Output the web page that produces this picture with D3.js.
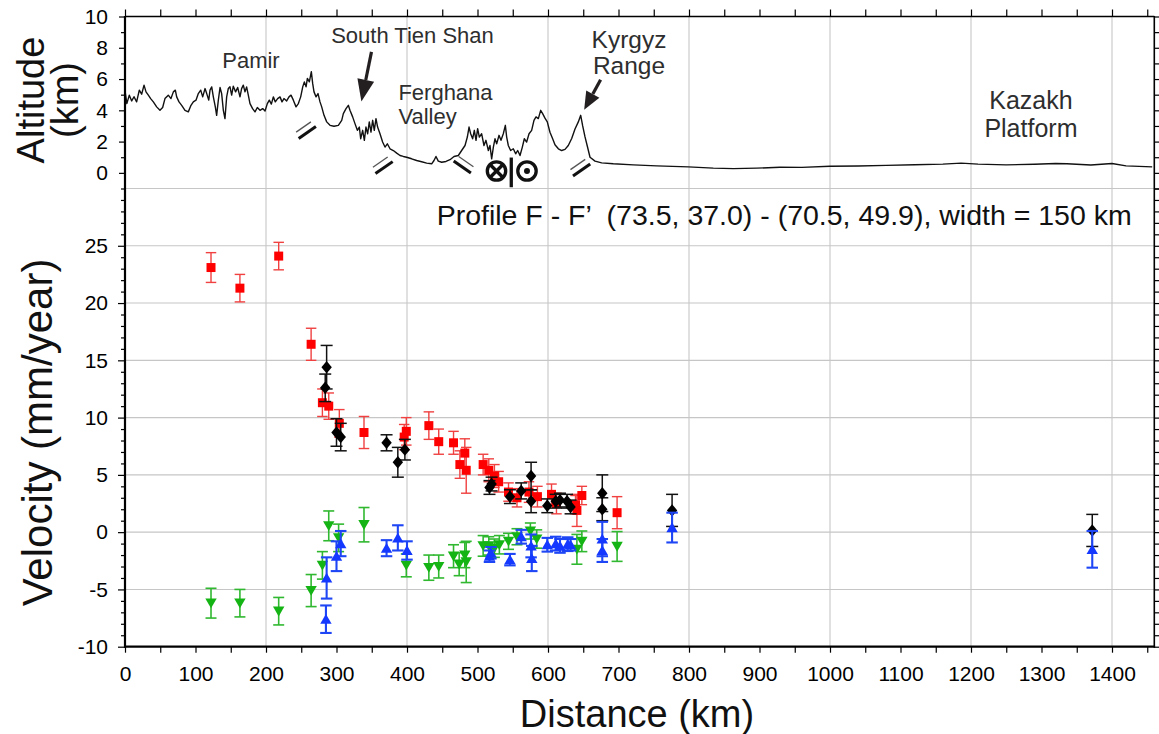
<!DOCTYPE html>
<html><head><meta charset="utf-8">
<script src="https://cdn.jsdelivr.net/npm/d3@7"></script>
<style>
body{margin:0;background:#fff;}
svg{display:block;font-family:"Liberation Sans",Arial,Helvetica,sans-serif;}
</style></head><body>
<svg id="c" width="1159" height="734"></svg>
<script>
// ---------- DATA ----------
// topography profile (distance km, altitude km)
const profileKm = [0,0.6,2.6,6.1,9.5,12.8,16.5,20.3,23.6,27,29.8,33.1,36.4,40.2,44.9,49.6,53.4,56.7,61.4,65.2,68.6,71.4,73.3,76.6,80.4,85.1,89.8,93.6,96.9,100.7,104,107.4,110.2,113.5,115.9,118.8,120.6,123,125.3,128.1,130,132.4,134.8,137.1,139.5,141.8,144.2,146.5,148.9,151.3,153.6,156.9,159.8,163.1,165.4,167.8,170.2,172.5,174.9,177.3,181,184.4,187.7,191.5,195.3,198.6,201.9,204.7,207.6,210.4,213.2,216.5,219.9,222.7,225.5,229.3,232.6,235.5,238.8,242.6,245.9,249.2,252.1,254.4,256.8,258.7,261.5,264.3,266.2,268.1,271,273.8,276.6,279,282.3,286.1,290.8,296.5,302.6,307.4,309.7,313.5,316.8,319.1,322.9,326.2,329.6,332.4,334.3,337.1,339.5,341.8,344.2,346.5,348.9,351.3,353.6,356,358.3,361.7,365.4,368.8,372.1,375.9,380.6,385.4,390.1,394.8,399.5,406.6,413.7,420.8,427.9,435,438.3,441.1,444.4,449.2,455.3,461,466.7,472.8,477.5,482.3,485.6,488,490.3,493.1,495.5,497.9,500.2,502.6,505.9,509.2,512,515.4,517.7,520.1,522.5,524.8,527.2,530.5,533.3,536.6,539.5,541.4,543.7,547,550.8,554.1,557,560.3,563.6,566.4,569.7,573.1,576.8,580.1,583,586.3,589.6,592.4,595.7,599,602.8,606.6,609.9,614.7,619.4,624.1,628.8,633.6,638.3,643,646.4,649.2,652.5,655.8,659.6,666.7,676.1,692.6,721,754.1,799,834.5,862.9,896,929,960,1000,1040,1080,1120,1160,1186,1210,1250,1290,1320,1336,1370,1400,1420,1457];
const profileAlt = [4.65,5.07,4.43,4.97,4.6,4.87,4.54,5.29,5.03,5.61,5.18,4.97,4.75,4.54,4.22,4.0,4.18,4.75,4.97,4.75,5.18,5.29,4.86,4.54,4.32,4.0,3.9,4.32,4.54,4.65,5.07,5.29,4.86,5.39,5.07,4.65,5.29,5.5,4.86,4.22,3.68,4.65,5.46,5.07,4.0,3.47,4.86,5.39,5.5,4.97,5.54,5.18,5.46,4.86,5.39,5.61,5.18,5.5,4.97,4.43,4.11,3.9,4.18,4.0,4.11,3.96,4.43,4.65,4.4,4.86,4.54,4.75,4.86,4.54,4.75,4.6,4.86,4.97,4.65,4.22,4.43,4.86,5.5,5.82,5.5,6.04,5.82,6.47,5.72,5.18,4.86,5.07,4.54,4.22,3.68,3.26,3.04,2.98,3.04,3.36,3.79,4.11,4.32,4.0,3.58,3.15,2.72,2.93,2.18,2.72,2.08,2.93,2.5,3.26,2.61,3.36,2.72,3.47,2.93,2.5,1.97,1.65,1.86,1.54,1.43,1.26,1.11,1.05,1.0,0.9,0.79,0.71,0.62,0.58,0.79,1.05,0.75,0.68,0.73,0.84,1.05,1.11,1.43,1.75,2.29,2.93,2.5,2.18,2.72,2.08,2.83,2.29,2.5,1.75,2.08,1.43,1.75,0.9,1.65,2.18,1.86,2.4,2.08,2.5,3.04,2.29,1.75,1.43,1.54,1.22,1.43,1.11,1.65,2.18,1.97,2.5,2.72,3.36,3.58,3.47,4.0,3.79,3.5,3.26,2.6,2.18,1.8,1.54,1.43,1.5,1.75,2.2,2.8,3.26,3.68,3.0,2.3,1.7,1.0,0.75,0.64,0.58,0.51,0.45,0.38,0.3,0.27,0.3,0.36,0.35,0.42,0.44,0.48,0.52,0.56,0.62,0.56,0.51,0.55,0.6,0.58,0.5,0.6,0.45,0.38];

// velocity series: [distance km, velocity mm/yr, error]
const redSeries = [[122,23.1,1.3],[163,21.3,1.2],[218,24.1,1.2],[264,16.4,1.4],[280,11.3,1.2],[289,11.0,1.15],[304,9.5,1.2],[339,8.7,1.4],[396,8.3,1.1],[399,8.8,1.2],[431,9.3,1.2],[445,7.9,1.1],[466,7.8,1.0],[475,5.9,1.2],[482,6.9,1.25],[484,5.4,2.0],[508,5.9,0.9],[516,5.4,1.0],[524,4.9,1.0],[530,4.4,0.9],[544,3.5,0.8],[556,3.0,0.8],[573,3.5,0.9],[585,3.1,0.9],[605,3.3,0.9],[612,2.5,0.9],[639,2.4,0.8],[641,1.9,1.4],[648,3.2,0.8],[698,1.7,1.4]];
const blackSeries = [[286,14.4,1.9],[284,12.6,1.2],[300,8.7,1.2],[306,8.3,1.2],[371,7.8,0.7],[387,6.1,1.3],[397,7.2,0.9],[517,3.9,0.6],[520,4.2,0.6],[546,3.1,0.6],[562,3.6,0.7],[576,4.9,1.2],[576,2.7,1.0],[599,2.3,0.6],[611,2.7,0.6],[617,2.8,0.6],[627,2.7,0.6],[632,2.2,0.6],[677,3.4,1.6],[677,2.0,1.0],[776,1.9,1.4],[1372,0.15,1.4]];
const greenSeries = [[122,-6.2,1.3],[163,-6.2,1.2],[218,-6.9,1.2],[264,-5.1,1.4],[280,-2.9,1.2],[289,0.55,1.3],[303,-0.5,1.2],[339,0.65,1.5],[399,-2.9,1.0],[431,-3.1,1.1],[445,-3.0,1.0],[466,-2.1,1.0],[474,-2.8,1.0],[482,-2.0,1.1],[484,-2.6,1.8],[508,-1.2,0.9],[516,-1.2,0.8],[524,-1.4,0.8],[531,-1.1,0.8],[544,-0.8,0.7],[556,-0.4,0.7],[575,0.1,0.7],[584,-0.6,0.8],[641,-1.5,1.3],[648,-0.8,0.9],[698,-1.25,1.3]];
const blueSeries = [[285,-7.6,1.2],[286,-4.0,1.8],[300,-2.1,1.3],[306,-1.0,1.1],[371,-1.4,0.7],[387,-0.5,1.1],[400,-1.6,0.8],[517,-2.1,0.5],[519,-1.8,0.5],[546,-2.4,0.5],[562,-0.4,0.6],[576,-1.2,1.0],[577,-2.3,1.1],[599,-1.1,0.6],[611,-1.0,0.6],[617,-1.2,0.6],[628,-1.05,0.6],[632,-1.1,0.5],[677,-0.6,1.5],[677,-1.6,1.0],[776,0.4,1.3],[1372,-1.5,1.6]];

// ticks
const xTickLabels = [0,100,200,300,400,500,600,700,800,900,1000,1100,1200,1300,1400];
const velTickLabels = [-10,-5,0,5,10,15,20,25];
const altTickLabels = [0,2,4,6,8,10];
const gridKm = [200,400,600,800,1000,1200,1400];
const gridVel = [-5,0,5,10,15,20,25,30];

// texts
const regionNames = ["Pamir","South Tien Shan","Ferghana","Valley","Kyrgyz","Range","Kazakh","Platform"];
const profileTitle = "Profile F - F\u2019  (73.5, 37.0) - (70.5, 49.9), width = 150 km";

// ---------- LAYOUT ----------
const L = 125, R = 1154.3, T = 16.5, M = 188.5, B = 646.7;
const x = d3.scaleLinear().domain([0,1460]).range([L,R]);
const yA = d3.scaleLinear().domain([-1,10]).range([M,T]);
const yV = d3.scaleLinear().domain([-10,30]).range([B,M]);
const svg = d3.select('#c');

// gridlines
const grid = svg.append('g').attr('stroke','#c6c6c6').attr('stroke-width',1.1);
grid.selectAll('line.v').data(gridKm).join('line').attr('class','v')
  .attr('x1',d=>x(d)).attr('x2',d=>x(d)).attr('y1',T).attr('y2',B);
grid.selectAll('line.h').data(gridVel).join('line').attr('class','h')
  .attr('x1',L).attr('x2',R).attr('y1',d=>yV(d)).attr('y2',d=>yV(d));

// profile
const prof = profileKm.map((k,i)=>[k,profileAlt[i]]);
svg.append('path').datum(prof)
  .attr('fill','none').attr('stroke','#111').attr('stroke-width',1.4).attr('stroke-linejoin','round')
  .attr('d', d3.line().x(d=>x(d[0])).y(d=>yA(d[1])));

// fault marks
function fault(km, alt, dir){
  const cx = x(km), cy = yA(alt);
  const d = dir>0 ? [0.82,-0.57] : [0.82,0.57];
  const n = dir>0 ? [0.57,0.82] : [-0.57,0.82];
  const g = svg.append('g');
  const seg = (off, hl, col, w) => g.append('line')
    .attr('x1', cx + off*n[0] - hl*d[0]).attr('y1', cy + off*n[1] - hl*d[1])
    .attr('x2', cx + off*n[0] + hl*d[0]).attr('y2', cy + off*n[1] + hl*d[1])
    .attr('stroke', col).attr('stroke-width', w).attr('stroke-linecap','butt');
  seg(-3.3, 9, '#555', 1.3);
  seg(3.3, 10.5, '#111', 3);
}
fault(255.9, 2.76, 1);
fault(364.8, 0.51, 1);
fault(481.1, 0.55, -1);
fault(645, 0.36, 1);

// arrows
function arrow(k0,a0,k1,a1,hl,hw){
  const x0=x(k0), y0=yA(a0), x1=x(k1), y1=yA(a1);
  const len = Math.hypot(x1-x0,y1-y0), ux=(x1-x0)/len, uy=(y1-y0)/len;
  const bx = x1-hl*ux, by = y1-hl*uy;
  svg.append('line').attr('x1',x0).attr('y1',y0).attr('x2',bx).attr('y2',by)
    .attr('stroke','#231f20').attr('stroke-width',3.2);
  svg.append('path').attr('fill','#231f20')
    .attr('d',`M${x1},${y1}L${bx-hw*uy},${by+hw*ux}L${bx+hw*uy},${by-hw*ux}Z`);
}
arrow(349.6,7.74, 335.3,4.56, 22, 8.5);
arrow(674.6,5.95, 651.3,4.03, 18, 7.5);

// strike-slip symbol
const sym = svg.append('g').attr('stroke','#111').attr('fill','none').attr('stroke-width',3.3);
const c1x = x(526.95), c2x = x(570.2), cy = yA(0.12), rr = 9.2;
sym.append('circle').attr('cx',c1x).attr('cy',cy).attr('r',rr);
sym.append('circle').attr('cx',c2x).attr('cy',cy).attr('r',rr);
const o = rr*0.68;
sym.append('line').attr('x1',c1x-o).attr('y1',cy-o).attr('x2',c1x+o).attr('y2',cy+o);
sym.append('line').attr('x1',c1x-o).attr('y1',cy+o).attr('x2',c1x+o).attr('y2',cy-o);
svg.append('circle').attr('cx',c2x).attr('cy',cy).attr('r',3).attr('fill','#111');
sym.append('line').attr('x1',x(547.9)).attr('x2',x(547.9)).attr('y1',yA(0.98)).attr('y2',yA(-0.92));

// ---------- VELOCITY SERIES ----------
const shapes = {
  square: 'M-4.5,-4.5h9v9h-9Z',
  diamond: 'M0,-6.2L5.2,0L0,6.2L-5.2,0Z',
  triUp: 'M0,-5.2L5.7,4.6L-5.7,4.6Z',
  triDown: 'M0,5.2L5.7,-4.6L-5.7,-4.6Z'
};
function series(data, shape, fill, barCol, barW, cap){
  const g = svg.append('g');
  const eb = g.append('g').attr('stroke',barCol).attr('stroke-width',barW);
  data.forEach(([k,v,e])=>{
    const px = x(k);
    eb.append('line').attr('x1',px).attr('x2',px).attr('y1',yV(v+e)).attr('y2',yV(v-e));
    eb.append('line').attr('x1',px-cap/2).attr('x2',px+cap/2).attr('y1',yV(v+e)).attr('y2',yV(v+e));
    eb.append('line').attr('x1',px-cap/2).attr('x2',px+cap/2).attr('y1',yV(v-e)).attr('y2',yV(v-e));
  });
  g.selectAll('path.m').data(data).join('path').attr('class','m')
    .attr('d',shapes[shape]).attr('fill',fill)
    .attr('transform',d=>`translate(${x(d[0])},${yV(d[1])})`);
}
series(redSeries,'square','#ff0000','#f04040',1.4,10.5);
series(blackSeries,'diamond','#000','#111',1.5,12);
series(greenSeries,'triDown','#14b414','#30b830',1.6,11);
series(blueSeries,'triUp','#1438ff','#1e46f5',2.1,11.5);

// ---------- AXES ----------
const fmt = d => String(d);
function styleAxis(g, fs){
  g.select('.domain').remove();
  g.selectAll('.tick line').attr('stroke','#000').attr('stroke-width',1.2);
  g.selectAll('.tick text').attr('fill','#000').attr('font-size',fs).attr('font-family','"Liberation Sans",Arial,sans-serif');
}
// top panel left
svg.append('g').attr('transform',`translate(${L},0)`)
  .call(d3.axisLeft(yA).tickValues(altTickLabels).tickSize(6).tickPadding(11).tickFormat(fmt))
  .call(g=>styleAxis(g,21));
svg.append('g').attr('transform',`translate(${L},0)`)
  .call(d3.axisLeft(yA).tickValues([-1,1,3,5,7,9]).tickSize(4).tickFormat(''))
  .call(g=>styleAxis(g,21));
// top panel right
svg.append('g').attr('transform',`translate(${R},0)`)
  .call(d3.axisRight(yA).tickValues(d3.range(-1,11)).tickSize(5).tickFormat(''))
  .call(g=>styleAxis(g,21));
// top border ticks
svg.append('g').attr('transform',`translate(0,${T})`)
  .call(d3.axisTop(x).tickValues(d3.range(0,1451,50)).tickSize(7).tickFormat(''))
  .call(g=>styleAxis(g,21));
// main left
svg.append('g').attr('transform',`translate(${L},0)`)
  .call(d3.axisLeft(yV).tickValues(velTickLabels).tickSize(7).tickPadding(10).tickFormat(d=>d<0?'-'+Math.abs(d):String(d)))
  .call(g=>styleAxis(g,21));
svg.append('g').attr('transform',`translate(${L},0)`)
  .call(d3.axisLeft(yV).tickValues(d3.range(-9,30).filter(d=>d%5!==0)).tickSize(4).tickFormat(''))
  .call(g=>styleAxis(g,21));
// main right
svg.append('g').attr('transform',`translate(${R},0)`)
  .call(d3.axisRight(yV).tickValues(d3.range(-10,31)).tickSize(5).tickFormat(''))
  .call(g=>styleAxis(g,21));
// bottom
svg.append('g').attr('transform',`translate(0,${B})`)
  .call(d3.axisBottom(x).tickValues(xTickLabels).tickSize(6).tickPadding(13).tickFormat(d=>String(d)))
  .call(g=>styleAxis(g,21));
svg.append('g').attr('transform',`translate(0,${B})`)
  .call(d3.axisBottom(x).tickValues(d3.range(50,1451,100)).tickSize(6).tickFormat(''))
  .call(g=>styleAxis(g,21));

// frame
const fr = svg.append('g').attr('stroke','#000');
fr.append('line').attr('x1',L).attr('x2',L).attr('y1',T-0.5).attr('y2',B+1).attr('stroke-width',2.2);
fr.append('line').attr('x1',R).attr('x2',R).attr('y1',T-0.5).attr('y2',B+1).attr('stroke-width',1.6);
fr.append('line').attr('x1',L).attr('x2',R).attr('y1',T).attr('y2',T).attr('stroke-width',1.6);
fr.append('line').attr('x1',L-1).attr('x2',R+0.8).attr('y1',B).attr('y2',B).attr('stroke-width',2.2);

// ---------- TEXT ----------
const lab = svg.append('g').attr('fill','#2e2e2e');
function txt(t,k,a,anchor,fs){
  lab.append('text').attr('x',x(k)).attr('y',yA(a)).attr('text-anchor',anchor).attr('font-size',fs).text(t);
}
txt(regionNames[0],178.7,6.72,'middle',22);
txt(regionNames[1],407.8,8.32,'middle',22);
txt(regionNames[2],387.8,4.67,'start',22);
txt(regionNames[3],387.8,3.13,'start',22);
txt(regionNames[4],714.9,8.0,'middle',24.5);
txt(regionNames[5],714.9,6.33,'middle',24.5);
txt(regionNames[6],1285,4.1,'middle',25);
txt(regionNames[7],1285,2.28,'middle',25);

svg.append('text').attr('x',x(1428)).attr('y',yV(26.8)).attr('text-anchor','end')
  .attr('font-size',28.5).attr('fill','#111').style('white-space','pre').text(profileTitle);

svg.append('text').attr('transform','translate(44,100) rotate(-90)').attr('text-anchor','middle')
  .attr('font-size',38).attr('fill','#111').text('Altitude');
svg.append('text').attr('transform','translate(78,100) rotate(-90)').attr('text-anchor','middle')
  .attr('font-size',38).attr('fill','#111').text('(km)');
svg.append('text').attr('transform','translate(52,432.5) rotate(-90)').attr('text-anchor','middle')
  .attr('font-size',42).attr('fill','#111').text('Velocity (mm/year)');
svg.append('text').attr('x',637).attr('y',727).attr('text-anchor','middle')
  .attr('font-size',38).attr('fill','#111').text('Distance (km)');
</script>
</body></html>
